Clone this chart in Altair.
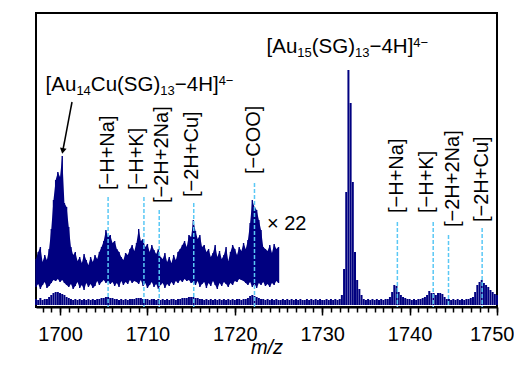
import altair as alt
import numpy as np
import pandas as pd

FONT = "Liberation Sans"
NAVY = "#000080"
CYAN = "#5AC8F5"

# ---------------- data (intensity, arbitrary units) ----------------
# x22 magnified trace, sampled every 0.25 m/z starting at 1697.25 (upper and lower noise envelope)
MAG_START, MAG_STEP = 1697.25, 0.25
mag_hi = [
    48, 55, 60, 45, 52, 47, 58, 78,
    107, 127, 135, 130, 151, 104, 100, 80,
    60, 52, 55, 46, 50, 44, 53, 47,
    42, 50, 45, 52, 48, 55, 60, 66,
    77, 70, 72, 64, 66, 58, 55, 50,
    47, 54, 52, 58, 62, 56, 64, 78,
    66, 68, 60, 63, 55, 62, 57, 53,
    58, 50, 48, 54, 45, 50, 44, 52,
    47, 55, 58, 62, 66, 60, 72, 70,
    87, 76, 68, 72, 60, 62, 55, 58,
    50, 54, 62, 50, 56, 48, 52, 60,
    46, 55, 62, 58, 52, 60, 56, 64,
    58, 67, 84, 107, 100, 97, 87, 77,
    60, 58, 56, 62, 54, 63, 58, 60,
]
mag_lo = [
    20, 23, 18, 22, 25, 19, 21, 24,
    27, 26, 28, 25, 27, 24, 22, 20,
    23, 18, 21, 25, 19, 22, 17, 24,
    20, 23, 19, 21, 26, 22, 25, 27,
    24, 26, 23, 25, 21, 24, 20, 26,
    22, 25, 23, 27, 24, 26, 25, 23,
    27, 21, 24, 19, 22, 25, 20, 23,
    18, 22, 24, 19, 23, 21, 25, 22,
    26, 24, 27, 25, 28, 26, 27, 24,
    25, 22, 26, 20, 23, 25, 19, 24,
    21, 26, 22, 18, 24, 21, 25, 23,
    20, 24, 22, 26, 25, 28, 27, 26,
    24, 22, 25, 20, 23, 19, 24, 22,
    25, 21, 23, 20, 24, 22, 26, 24,
]

# original trace, sampled every 0.25 m/z starting at 1697.25
RAW_START, RAW_STEP = 1697.25, 0.25
RAW_BASE = 2
raw_hi = [
    8, 7, 9, 7, 8, 8, 10, 12,
    14, 15, 15, 14, 13, 12, 10, 9,
    8, 7, 8, 7, 8, 7, 8, 7,
    8, 7, 8, 7, 8, 8, 9, 9,
    10, 10, 9, 9, 8, 8, 7, 8,
    7, 8, 7, 8, 8, 8, 9, 9,
    9, 8, 8, 8, 7, 8, 8, 7,
    8, 7, 8, 7, 8, 7, 8, 8,
    7, 8, 8, 9, 9, 9, 10, 10,
    10, 9, 9, 8, 8, 7, 8, 7,
    8, 7, 8, 7, 8, 7, 8, 7,
    8, 7, 8, 7, 8, 8, 7, 8,
    8, 9, 11, 12, 11, 10, 9, 8,
    8, 7, 8, 7, 8, 7, 8, 7,
    7, 8, 7, 8, 7, 8, 7, 8,
    7, 8, 7, 7, 8, 7, 8, 7,
    8, 7, 8, 7, 7, 8, 7, 8,
    7, 8, 7, 8, 12, 38, 115, 237,
    204, 125, 55, 27, 18, 12, 8, 7,
    8, 7, 8, 7, 8, 7, 8, 7,
    8, 8, 10, 15, 22, 21, 15, 12,
    10, 9, 8, 8, 7, 8, 7, 8,
    8, 9, 10, 12, 16, 14, 14, 12,
    14, 14, 13, 10, 8, 8, 7, 8,
    7, 8, 7, 8, 7, 8, 8, 9,
    10, 15, 22, 25, 27, 24, 22, 20,
    17, 15, 13, 12,
]

# dashed markers and their labels
line_mz = [1705.5, 1709.6, 1711.35, 1715.3, 1722.25, 1738.6, 1742.7, 1744.45, 1748.3]
line_top = [110, 110, 97, 104, 124, 85, 85, 72, 79]
label_text = ["[−H+Na]", "[−H+K]", "[−2H+2Na]", "[−2H+Cu]", "[−COO]",
              "[−H+Na]", "[−H+K]", "[−2H+2Na]", "[−2H+Cu]"]
label_mz = [1705.5, 1708.86, 1711.67, 1715.15, 1722.19, 1738.61, 1742.0, 1744.96, 1748.28]
label_y = [117, 117, 104, 110, 133, 94, 94, 80, 85]

# formula annotations: (text, n=normal / sub / sup)
formula1 = [("[Au", "n"), ("14", "sub"), ("Cu(SG)", "n"), ("13", "sub"), ("−4H]", "n"), ("4−", "sup")]
formula1_pos = (1698.35, 216)
formula2 = [("[Au", "n"), ("15", "sub"), ("(SG)", "n"), ("13", "sub"), ("−4H]", "n"), ("4−", "sup")]
formula2_pos = (1723.63, 254)
factor_text = "× 22"
factor_pos = (1723.67, 77)
arrow_from = (1701.37, 205)
arrow_to = (1700.31, 156)

X_DOMAIN = [1697.25, 1750]
Y_DOMAIN = [0, 294]
MAJOR_TICKS = list(range(1700, 1751, 10))
MINOR_TICKS = list(range(1698, 1751))

# ---------------- tables ----------------
df_mag = pd.DataFrame({"mz": MAG_START + MAG_STEP * np.arange(len(mag_hi)),
                       "lo": mag_lo, "hi": mag_hi})
df_raw = pd.DataFrame({"mz": RAW_START + RAW_STEP * np.arange(len(raw_hi)),
                       "lo": RAW_BASE, "hi": raw_hi})
df_lines = pd.DataFrame({"mz": line_mz, "top": line_top})
df_labels = pd.DataFrame({"mz": label_mz, "v": label_y, "t": label_text})
df_arrow = pd.DataFrame({"mz": [arrow_from[0]], "v": [arrow_from[1]],
                         "mz2": [arrow_to[0]], "v2": [arrow_to[1]]})

xs = alt.Scale(domain=X_DOMAIN, nice=False, zero=False)
ys = alt.Scale(domain=Y_DOMAIN, nice=False, zero=False)

major_axis = alt.Axis(values=MAJOR_TICKS, orient="bottom", format="d", grid=False,
                      tickSize=8, tickWidth=1.5, tickColor="black",
                      domainColor="black", domainWidth=2,
                      labelFont=FONT, labelFontSize=20, labelColor="black",
                      labelPadding=9, labelFlush=True, labelFlushOffset=17,
                      title="m/z", titleFont=FONT, titleFontSize=20,
                      titleFontStyle="italic", titleFontWeight="normal",
                      titleColor="black", titleBaseline="alphabetic", titleY=46)
minor_axis = alt.Axis(values=MINOR_TICKS, orient="bottom", grid=False, labels=False,
                      domain=False, tickSize=5, tickWidth=1.5, tickColor="black",
                      title=None)
y_axis = alt.Axis(title="Ion Intensity (a. u.)", labels=False, ticks=False, domain=False,
                  grid=False, titleFont=FONT, titleFontSize=20, titleFontWeight="normal",
                  titleColor="black", titlePadding=5)

mag_area = alt.Chart(df_mag).mark_area(color=NAVY, opacity=1).encode(
    x=alt.X("mz:Q", scale=xs, axis=major_axis),
    y=alt.Y("lo:Q", scale=ys, axis=y_axis),
    y2="hi:Q",
)
mag = alt.Chart(df_mag).mark_rule(color=NAVY, strokeWidth=1.4).encode(
    x=alt.X("mz:Q", scale=xs, axis=None),
    y=alt.Y("lo:Q", scale=ys, axis=None),
    y2="hi:Q",
)
raw = alt.Chart(df_raw).mark_rule(color=NAVY, strokeWidth=2.0).encode(
    x=alt.X("mz:Q", scale=xs, axis=minor_axis),
    y=alt.Y("lo:Q", scale=ys, axis=None),
    y2="hi:Q",
)
lines = alt.Chart(df_lines).mark_rule(color=CYAN, strokeWidth=1.5, strokeDash=[4, 2]).encode(
    x=alt.X("mz:Q", scale=xs, axis=None),
    y=alt.Y("top:Q", scale=ys, axis=None),
    y2=alt.datum(0),
)
labels = alt.Chart(df_labels).mark_text(angle=270, align="left", baseline="middle",
                                        font=FONT, fontSize=20, color="black").encode(
    x=alt.X("mz:Q", scale=xs, axis=None),
    y=alt.Y("v:Q", scale=ys, axis=None),
    text="t:N",
)
arrow_line = alt.Chart(df_arrow).mark_rule(color="black", strokeWidth=1.5).encode(
    x=alt.X("mz:Q", scale=xs, axis=None),
    y=alt.Y("v:Q", scale=ys, axis=None),
    x2="mz2:Q",
    y2="v2:Q",
)
arrow_head = alt.Chart(df_arrow).mark_point(shape="triangle-down", filled=True, size=45,
                                            angle=11, color="black", opacity=1).encode(
    x=alt.X("mz2:Q", scale=xs, axis=None),
    y=alt.Y("v2:Q", scale=ys, axis=None),
)

ARIAL_W = {"[": 278, "]": 278, "A": 667, "u": 556, "C": 722, "(": 333, ")": 333,
           "S": 667, "G": 778, "−": 584, "H": 722, "1": 556, "3": 556, "4": 556, "5": 556}
SIZES = {"n": 20.5, "sub": 13, "sup": 13}
DYS = {"n": 0, "sub": 3.5, "sup": -6}


def rich_text(pos, segments):
    pt = pd.DataFrame({"mz": [pos[0]], "v": [pos[1]]})
    out = []
    dx = 0.0
    for txt, kind in segments:
        size = SIZES[kind]
        out.append(alt.Chart(pt).mark_text(text=txt, align="left", baseline="alphabetic",
                                           dx=dx, dy=DYS[kind], font=FONT, fontSize=size,
                                           color="black").encode(
            x=alt.X("mz:Q", scale=xs, axis=None),
            y=alt.Y("v:Q", scale=ys, axis=None)))
        dx += sum(ARIAL_W[c] for c in txt) * size / 1000.0
    return out


factor = alt.Chart(pd.DataFrame({"mz": [factor_pos[0]], "v": [factor_pos[1]]})).mark_text(
    text=factor_text, align="left", baseline="alphabetic", font=FONT, fontSize=20,
    color="black").encode(
    x=alt.X("mz:Q", scale=xs, axis=None),
    y=alt.Y("v:Q", scale=ys, axis=None),
)

chart = alt.layer(
    mag_area, mag, raw, lines, labels, arrow_line, arrow_head, factor,
    *rich_text(formula1_pos, formula1), *rich_text(formula2_pos, formula2),
).resolve_axis(x="independent").properties(
    width=461, height=294,
    padding={"left": 28, "top": 5, "right": 17, "bottom": 49},
    autosize=alt.AutoSizeParams(type="none"),
).configure_view(stroke="black", strokeWidth=2)

chart.save("out.html", embed_options={"renderer": "svg", "actions": False})
